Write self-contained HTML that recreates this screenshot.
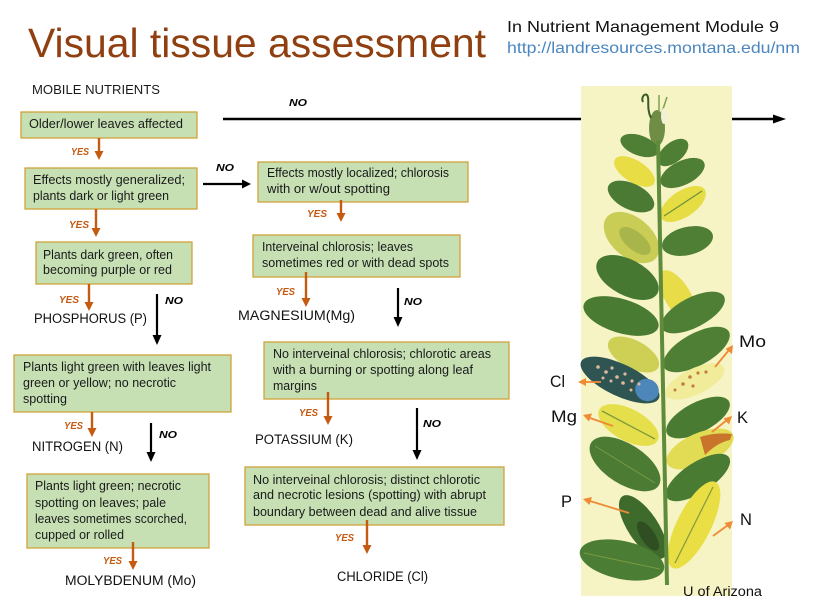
<!DOCTYPE html>
<html>
<head>
<meta charset="utf-8">
<style>
  html, body { margin: 0; padding: 0; background: #ffffff; }
  body { width: 816px; height: 612px; overflow: hidden; }
  svg { display: block; }
  .bx { fill: #c6e0b4; stroke: #cfa33a; stroke-width: 1.3; }
  .t { font-family: "Liberation Sans", sans-serif; font-size: 12.5px; fill: #1a1a1a; }
  .lab { font-family: "Liberation Sans", sans-serif; font-size: 13.5px; fill: #111; }
  .yes { font-family: "Liberation Sans", sans-serif; font-size: 10.5px; font-weight: bold; font-style: italic; fill: #c55a11; }
  .no { font-family: "Liberation Sans", sans-serif; font-size: 10.5px; font-weight: bold; font-style: italic; fill: #000; }
  .ol { stroke: #c55a11; stroke-width: 2.4; fill: none; }
  .of { fill: #c55a11; }
  .bl { stroke: #000; stroke-width: 2.2; fill: none; }
  .pl { font-family: "Liberation Sans", sans-serif; font-size: 16.5px; fill: #111; }
  .pa { stroke: #ef8a35; stroke-width: 1.8; fill: none; }
  .paf { fill: #ef8a35; }
  .vein { stroke: #8aa84a; stroke-width: 1; fill: none; opacity: 0.7; }
</style>
</head>
<body>
<svg width="816" height="612" viewBox="0 0 816 612" xmlns="http://www.w3.org/2000/svg">
  <!-- Title -->
  <text x="28" y="57" font-family="Liberation Sans, sans-serif" font-size="41" fill="#8f3f10" textLength="458" lengthAdjust="spacingAndGlyphs">Visual tissue assessment</text>
  <text x="507" y="32" font-family="Liberation Sans, sans-serif" font-size="16" fill="#111" textLength="272" lengthAdjust="spacingAndGlyphs">In Nutrient Management  Module  9</text>
  <text x="507" y="53" font-family="Liberation Sans, sans-serif" font-size="16" fill="#4a86c0" textLength="293" lengthAdjust="spacingAndGlyphs">http://landresources.montana.edu/nm</text>

  <text x="32" y="94" class="t" font-size="12.5" textLength="128" lengthAdjust="spacingAndGlyphs">MOBILE NUTRIENTS</text>

  <!-- Long NO arrow -->
  <line x1="223" y1="119" x2="776" y2="119" stroke="#000" stroke-width="2.5"/>
  <polygon points="773,114.5 786,119 773,123.5" fill="#000"/>
  <text x="289" y="106" class="no" textLength="18" lengthAdjust="spacingAndGlyphs">NO</text>

  <!-- Plant illustration -->
  <rect x="581" y="86" width="151" height="510" fill="#f6f3c4"/>
  <g>
    <!-- bud -->
    <ellipse cx="657" cy="128" rx="8" ry="18" fill="#6f8d45"/>
    <path d="M651,118 C646,108 650,98 647,95 C644,93 641,98 643,102" stroke="#3c5a28" stroke-width="2" fill="none"/>
    <path d="M662,112 L667,97 M659,112 L659,95" stroke="#7fa050" stroke-width="1.5"/>
    <ellipse cx="664" cy="116" rx="3" ry="8" fill="#f3f0d8"/>
    <!-- leaves top section -->
    <ellipse cx="639.5" cy="145.5" rx="20" ry="10" fill="#4e7f35" transform="rotate(20.4 639.5 145.5)"/>
    <ellipse cx="673" cy="152.5" rx="18" ry="10" fill="#4e7f35" transform="rotate(-38.9 673 152.5)"/>
    <ellipse cx="634.5" cy="171.5" rx="23" ry="11" fill="#e8dd45" transform="rotate(31.9 634.5 171.5)"/>
    <ellipse cx="682.5" cy="173" rx="24" ry="12" fill="#4e7f35" transform="rotate(-26 682.5 173)"/>
    <ellipse cx="631" cy="196.5" rx="25" ry="13" fill="#4a7a33" transform="rotate(25.5 631 196.5)"/>
    <ellipse cx="683" cy="204" rx="26" ry="13" fill="#e6dc44" transform="rotate(-33.7 683 204)"/>
    <line x1="664" y1="216" x2="702" y2="191" stroke="#6b8f3a" stroke-width="1.2"/>
    <ellipse cx="631.5" cy="237.5" rx="32" ry="20" fill="#c9cc55" transform="rotate(39.7 631.5 237.5)"/>
    <ellipse cx="635" cy="241" rx="19" ry="9" fill="#a7b54a" transform="rotate(39.7 635 241)"/>
    <ellipse cx="687.5" cy="241" rx="26" ry="14" fill="#4e7f35" transform="rotate(-13.8 687.5 241)"/>
    <ellipse cx="627.5" cy="277.5" rx="34" ry="18" fill="#477832" transform="rotate(27.7 627.5 277.5)"/>
    <ellipse cx="677.5" cy="296" rx="29" ry="13" fill="#e8dc48" transform="rotate(58.9 677.5 296)"/>
    <ellipse cx="621" cy="316" rx="39" ry="17" fill="#4a7b33" transform="rotate(17 621 316)"/>
    <ellipse cx="693" cy="312.5" rx="35" ry="15" fill="#4e7f35" transform="rotate(-27.3 693 312.5)"/>
    <!-- lower section -->
    <ellipse cx="633.5" cy="354.5" rx="28" ry="14" fill="#cdd055" transform="rotate(28 633.5 354.5)"/>
    <ellipse cx="696.5" cy="349.5" rx="37" ry="16" fill="#4e7f35" transform="rotate(-29 696.5 349.5)"/>
    <ellipse cx="620" cy="380" rx="43" ry="16" fill="#2f5552" transform="rotate(25.3 620 380)"/>
    <ellipse cx="647" cy="390" rx="12" ry="11" fill="#4d86b8" transform="rotate(25.3 647 390)"/>
    <g fill="#e0b8a0">
      <circle cx="598" cy="367" r="1.8"/><circle cx="606" cy="372" r="1.8"/><circle cx="612" cy="368" r="1.6"/>
      <circle cx="617" cy="377" r="1.8"/><circle cx="625" cy="374" r="1.6"/><circle cx="623" cy="383" r="1.8"/>
      <circle cx="632" cy="381" r="1.6"/><circle cx="603" cy="378" r="1.5"/><circle cx="611" cy="381" r="1.5"/>
      <circle cx="631" cy="390" r="1.5"/><circle cx="639" cy="384" r="1.5"/>
    </g>
    <ellipse cx="695" cy="381.5" rx="32" ry="13" fill="#f0ec9a" transform="rotate(-25.7 695 381.5)"/>
    <g fill="#c0803a">
      <circle cx="683" cy="384" r="1.8"/><circle cx="690" cy="377" r="1.8"/><circle cx="698" cy="373" r="1.6"/>
      <circle cx="706" cy="372" r="1.6"/><circle cx="693" cy="386" r="1.6"/><circle cx="675" cy="390" r="1.5"/>
    </g>
    <ellipse cx="628.5" cy="425" rx="33" ry="16" fill="#e6df4c" transform="rotate(27.8 628.5 425)"/>
    <line x1="602" y1="411" x2="655" y2="439" stroke="#7e9a3c" stroke-width="1.3"/>
    <ellipse cx="698" cy="417.5" rx="35" ry="15" fill="#4a7b33" transform="rotate(-27.3 698 417.5)"/>
    <ellipse cx="625" cy="464" rx="40" ry="20" fill="#4c7c34" transform="rotate(32.5 625 464)"/>
    <line x1="595" y1="446" x2="655" y2="483" class="vein"/>
    <ellipse cx="700" cy="449" rx="36" ry="16" fill="#e2dc55" transform="rotate(-23.6 700 449)"/>
    <path d="M700,437 C712,433 724,433 732,434 L730,440 C720,442 712,448 705,455 Z" fill="#c8742a"/>
    <ellipse cx="698" cy="477.5" rx="37" ry="15" fill="#4a7b33" transform="rotate(-33 698 477.5)"/>
    <ellipse cx="643" cy="527" rx="37" ry="15" fill="#3e6a2c" transform="rotate(56.3 643 527)"/>
    <ellipse cx="648" cy="536" rx="17" ry="7" fill="#2f4f22" transform="rotate(56.3 648 536)"/>
    <ellipse cx="694" cy="525" rx="48" ry="17" fill="#e9df45" transform="rotate(-63.4 694 525)"/>
    <line x1="675" y1="563" x2="713" y2="487" stroke="#8a9e40" stroke-width="1.3"/>
    <ellipse cx="622" cy="560" rx="43" ry="19" fill="#4c7d34" transform="rotate(12 622 560)"/>
    <line x1="584" y1="553" x2="660" y2="569" class="vein"/>
    <!-- stem -->
    <path d="M658,140 C659,250 662,400 667,585" stroke="#5e8c3c" stroke-width="4" fill="none"/>
  </g>

  <!-- Plant callout arrows -->
  <line x1="601" y1="382" x2="585" y2="382" class="pa"/>
  <polygon points="578,382 586,378 586,386" class="paf"/>
  <line x1="613" y1="426" x2="590" y2="418" class="pa"/>
  <polygon points="583,415 592,413.5 589,421.5" class="paf"/>
  <line x1="715" y1="367" x2="729" y2="350" class="pa"/>
  <polygon points="733,345 732,354 725.5,349" class="paf"/>
  <line x1="712" y1="432" x2="727" y2="420" class="pa"/>
  <polygon points="732,416 729,424.5 723.5,418.5" class="paf"/>
  <line x1="629" y1="513" x2="590" y2="501" class="pa"/>
  <polygon points="583,499 592,497 589.5,505" class="paf"/>
  <line x1="713" y1="536" x2="728" y2="525" class="pa"/>
  <polygon points="733,521 730,529.5 724.5,523" class="paf"/>

  <!-- Plant labels -->
  <text x="739" y="347" class="pl" textLength="27" lengthAdjust="spacingAndGlyphs">Mo</text>
  <text x="550" y="387" class="pl" font-size="17" textLength="15" lengthAdjust="spacingAndGlyphs">Cl</text>
  <text x="551" y="422" class="pl" textLength="26" lengthAdjust="spacingAndGlyphs">Mg</text>
  <text x="737" y="423" class="pl">K</text>
  <text x="561" y="507" class="pl">P</text>
  <text x="740" y="525" class="pl">N</text>
  <text x="683" y="596" class="lab" font-size="13.5" textLength="79" lengthAdjust="spacingAndGlyphs">U of Arizona</text>

  <!-- Box 1 -->
  <rect x="21" y="112" width="176" height="26" class="bx"/>
  <text x="29" y="128" class="t" textLength="154" lengthAdjust="spacingAndGlyphs">Older/lower leaves affected</text>
  <line x1="99" y1="138" x2="99" y2="152" class="ol"/>
  <polygon points="94.5,151 103.5,151 99,160" class="of"/>
  <text x="71" y="155" class="yes" textLength="18" lengthAdjust="spacingAndGlyphs">YES</text>

  <!-- Box 2 -->
  <rect x="25" y="168" width="172" height="41" class="bx"/>
  <text x="33" y="184" class="t" textLength="152" lengthAdjust="spacingAndGlyphs">Effects mostly generalized;</text>
  <text x="33" y="200" class="t" textLength="136" lengthAdjust="spacingAndGlyphs">plants dark or light green</text>
  <!-- NO right arrow -->
  <line x1="203" y1="184" x2="243" y2="184" class="bl"/>
  <polygon points="242,179.5 251,184 242,188.5" fill="#000"/>
  <text x="216" y="171" class="no" textLength="18" lengthAdjust="spacingAndGlyphs">NO</text>
  <line x1="96" y1="209" x2="96" y2="229" class="ol"/>
  <polygon points="91.5,228 100.5,228 96,237" class="of"/>
  <text x="69" y="228" class="yes" textLength="20" lengthAdjust="spacingAndGlyphs">YES</text>

  <!-- Box 3 -->
  <rect x="36" y="242" width="156" height="42" class="bx"/>
  <text x="43" y="259" class="t" textLength="130" lengthAdjust="spacingAndGlyphs">Plants dark green, often</text>
  <text x="43" y="274" class="t" textLength="129" lengthAdjust="spacingAndGlyphs">becoming purple or red</text>
  <line x1="89" y1="284" x2="89" y2="303" class="ol"/>
  <polygon points="84.5,302 93.5,302 89,311" class="of"/>
  <text x="59" y="303" class="yes" textLength="20" lengthAdjust="spacingAndGlyphs">YES</text>
  <text x="34" y="323" class="lab" textLength="113" lengthAdjust="spacingAndGlyphs">PHOSPHORUS (P)</text>
  <line x1="157" y1="294" x2="157" y2="336" class="bl"/>
  <polygon points="152.5,335 161.5,335 157,345" fill="#000"/>
  <text x="165" y="304" class="no" textLength="18" lengthAdjust="spacingAndGlyphs">NO</text>

  <!-- Box 4 -->
  <rect x="14" y="355" width="217" height="57" class="bx"/>
  <text x="23" y="371" class="t" textLength="188" lengthAdjust="spacingAndGlyphs">Plants light green with leaves light</text>
  <text x="23" y="387" class="t" textLength="153" lengthAdjust="spacingAndGlyphs">green or yellow; no necrotic</text>
  <text x="23" y="403" class="t" textLength="44" lengthAdjust="spacingAndGlyphs">spotting</text>
  <line x1="92" y1="412" x2="92" y2="429" class="ol"/>
  <polygon points="87.5,428 96.5,428 92,437" class="of"/>
  <text x="64" y="429" class="yes" textLength="19" lengthAdjust="spacingAndGlyphs">YES</text>
  <text x="32" y="451" class="lab" textLength="91" lengthAdjust="spacingAndGlyphs">NITROGEN (N)</text>
  <line x1="151" y1="423" x2="151" y2="453" class="bl"/>
  <polygon points="146.5,452 155.5,452 151,462" fill="#000"/>
  <text x="159" y="438" class="no" textLength="18" lengthAdjust="spacingAndGlyphs">NO</text>

  <!-- Box 5 -->
  <rect x="27" y="474" width="182" height="74" class="bx"/>
  <text x="35" y="490" class="t" textLength="146" lengthAdjust="spacingAndGlyphs">Plants light green; necrotic</text>
  <text x="35" y="507" class="t" textLength="131" lengthAdjust="spacingAndGlyphs">spotting on leaves; pale</text>
  <text x="35" y="523" class="t" textLength="152" lengthAdjust="spacingAndGlyphs">leaves sometimes scorched,</text>
  <text x="35" y="539" class="t" textLength="89" lengthAdjust="spacingAndGlyphs">cupped or rolled</text>
  <line x1="133" y1="542" x2="133" y2="562" class="ol"/>
  <polygon points="128.5,561 137.5,561 133,570" class="of"/>
  <text x="103" y="564" class="yes" textLength="19" lengthAdjust="spacingAndGlyphs">YES</text>
  <text x="65" y="585" class="lab" textLength="131" lengthAdjust="spacingAndGlyphs">MOLYBDENUM (Mo)</text>

  <!-- Box 6 -->
  <rect x="258" y="162" width="210" height="40" class="bx"/>
  <text x="267" y="177" class="t" textLength="182" lengthAdjust="spacingAndGlyphs">Effects mostly localized; chlorosis</text>
  <text x="267" y="193" class="t" textLength="123" lengthAdjust="spacingAndGlyphs">with or w/out spotting</text>
  <line x1="341" y1="200" x2="341" y2="214" class="ol"/>
  <polygon points="336.5,213 345.5,213 341,222" class="of"/>
  <text x="307" y="217" class="yes" textLength="20" lengthAdjust="spacingAndGlyphs">YES</text>

  <!-- Box 7 -->
  <rect x="253" y="235" width="207" height="42" class="bx"/>
  <text x="262" y="251" class="t" textLength="151" lengthAdjust="spacingAndGlyphs">Interveinal chlorosis; leaves</text>
  <text x="262" y="267" class="t" textLength="187" lengthAdjust="spacingAndGlyphs">sometimes red or with dead spots</text>
  <line x1="306" y1="272" x2="306" y2="299" class="ol"/>
  <polygon points="301.5,298 310.5,298 306,307" class="of"/>
  <text x="276" y="295" class="yes" textLength="19" lengthAdjust="spacingAndGlyphs">YES</text>
  <text x="238" y="320" class="lab" textLength="117" lengthAdjust="spacingAndGlyphs">MAGNESIUM(Mg)</text>
  <line x1="398" y1="288" x2="398" y2="318" class="bl"/>
  <polygon points="393.5,317 402.5,317 398,327" fill="#000"/>
  <text x="404" y="305" class="no" textLength="18" lengthAdjust="spacingAndGlyphs">NO</text>

  <!-- Box 8 -->
  <rect x="264" y="342" width="245" height="57" class="bx"/>
  <text x="273" y="358" class="t" textLength="218" lengthAdjust="spacingAndGlyphs">No interveinal chlorosis; chlorotic areas</text>
  <text x="273" y="374" class="t" textLength="200" lengthAdjust="spacingAndGlyphs">with a burning or spotting along leaf</text>
  <text x="273" y="390" class="t" textLength="44" lengthAdjust="spacingAndGlyphs">margins</text>
  <line x1="328" y1="392" x2="328" y2="417" class="ol"/>
  <polygon points="323.5,416 332.5,416 328,425" class="of"/>
  <text x="299" y="416" class="yes" textLength="19" lengthAdjust="spacingAndGlyphs">YES</text>
  <text x="255" y="444" class="lab" textLength="98" lengthAdjust="spacingAndGlyphs">POTASSIUM (K)</text>
  <line x1="417" y1="408" x2="417" y2="451" class="bl"/>
  <polygon points="412.5,450 421.5,450 417,460" fill="#000"/>
  <text x="423" y="427" class="no" textLength="18" lengthAdjust="spacingAndGlyphs">NO</text>

  <!-- Box 9 -->
  <rect x="245" y="467" width="259" height="58" class="bx"/>
  <text x="253" y="484" class="t" textLength="227" lengthAdjust="spacingAndGlyphs">No interveinal chlorosis; distinct chlorotic</text>
  <text x="253" y="499" class="t" textLength="233" lengthAdjust="spacingAndGlyphs">and necrotic lesions (spotting) with abrupt</text>
  <text x="253" y="516" class="t" textLength="224" lengthAdjust="spacingAndGlyphs">boundary between dead and alive tissue</text>
  <line x1="367" y1="520" x2="367" y2="546" class="ol"/>
  <polygon points="362.5,545 371.5,545 367,554" class="of"/>
  <text x="335" y="541" class="yes" textLength="19" lengthAdjust="spacingAndGlyphs">YES</text>
  <text x="337" y="581" class="lab" textLength="91" lengthAdjust="spacingAndGlyphs">CHLORIDE (Cl)</text>
</svg>
</body>
</html>
